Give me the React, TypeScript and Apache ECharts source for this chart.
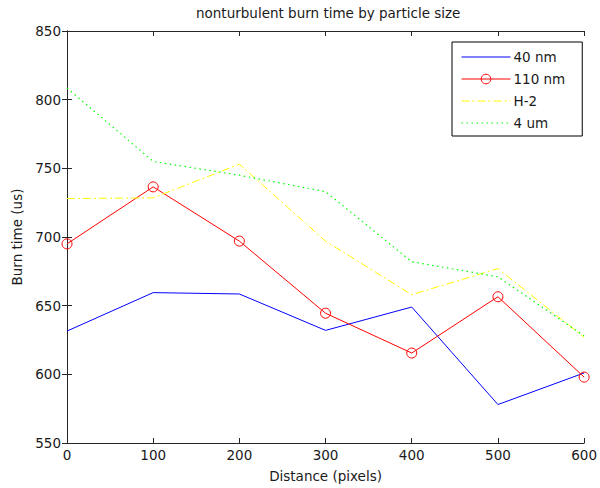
import React, { useEffect, useRef } from "react";
import * as echarts from "echarts";

// Burn time (us) measured at each distance along the path (pixels)
const distances = [0, 100, 200, 300, 400, 500, 600];
const burn40nm = [631.5, 659.5, 658.5, 632, 649, 578, 601];
const burn110nm = [695, 736.5, 697, 644.5, 615.5, 656.5, 598];
const burnH2 = [728, 728.5, 753, 697, 658, 677, 627];
const burn4um = [808.5, 755, 745, 733, 682, 671, 628];

const seriesNames = ["40 nm", "110 nm", "H-2", "4 um"];
const xTicks = { min: 0, max: 600, interval: 100 };
const yTicks = { min: 550, max: 850, interval: 50 };

const FONT = "DejaVu Sans";
const TEXT = "#1a1a1a";
const AXIS = "#262626";
const CLEAR = "rgba(255,255,255,0)";

const pairs = (ys: number[]) => distances.map((d, i) => [d, ys[i]]);

export default function App() {
  const ref = useRef<HTMLDivElement>(null);

  useEffect(() => {
    if (!ref.current) return;
    const chart = echarts.init(ref.current, undefined, { renderer: "svg" });

    const axisLine = { show: true, lineStyle: { color: AXIS, width: 1 } };
    const axisTick = { show: true, inside: true, length: 5, lineStyle: { color: AXIS } };
    const label = { color: TEXT, fontFamily: FONT, fontSize: 13.5 };

    // plain lines: no markers, and nothing drawn in the legend swatch centre
    const plain = (name: string, ys: number[], color: string, extra: object = {}) => ({
      name,
      type: "line",
      data: pairs(ys),
      symbol: "none",
      lineStyle: { color, width: 1, ...extra },
      itemStyle: { color: CLEAR, borderColor: CLEAR, borderWidth: 0 },
    });

    chart.setOption({
      animation: false,
      backgroundColor: "#ffffff",
      title: {
        text: "nonturbulent burn time by particle size",
        left: 196,
        top: 6,
        padding: 0,
        textStyle: { ...label, fontWeight: "normal" },
      },
      grid: { left: 67, right: 11, top: 31, bottom: 45, containLabel: false },
      legend: {
        data: seriesNames,
        orient: "vertical",
        left: 452,
        top: 42,
        padding: [8, 17, 6, 9],
        itemWidth: 49,
        itemHeight: 12,
        itemGap: 8,
        borderColor: "#000000",
        borderWidth: 1,
        backgroundColor: "#ffffff",
        lineStyle: { width: 1 },
        itemStyle: { borderWidth: 1 },
        textStyle: { ...label, padding: [0, 0, 0, -2] },
      },
      xAxis: [
        {
          type: "value",
          ...xTicks,
          name: "Distance (pixels)",
          nameLocation: "middle",
          nameGap: 26,
          nameTextStyle: label,
          axisLine,
          axisTick,
          splitLine: { show: false },
          axisLabel: { ...label, margin: 5 },
        },
        {
          type: "value",
          position: "top",
          ...xTicks,
          axisLine,
          axisTick,
          splitLine: { show: false },
          axisLabel: { show: false },
        },
      ],
      yAxis: [
        {
          type: "value",
          ...yTicks,
          name: "Burn time (us)",
          nameLocation: "middle",
          nameGap: 42,
          nameTextStyle: label,
          axisLine,
          axisTick,
          splitLine: { show: false },
          axisLabel: { ...label, margin: 6 },
        },
        {
          type: "value",
          position: "right",
          ...yTicks,
          axisLine,
          axisTick,
          splitLine: { show: false },
          axisLabel: { show: false },
        },
      ],
      series: [
        plain(seriesNames[0], burn40nm, "#0000ff"),
        {
          name: seriesNames[1],
          type: "line",
          data: pairs(burn110nm),
          symbol: "circle",
          symbolSize: 10,
          lineStyle: { color: "#ff0000", width: 1 },
          itemStyle: { color: CLEAR, borderColor: "#ff0000", borderWidth: 1 },
        },
        plain(seriesNames[2], burnH2, "#ffff00", { type: [8, 3, 2, 3] }),
        plain(seriesNames[3], burn4um, "#00ff00", { width: 1.2, type: [1.5, 3.5] }),
      ],
    });

    return () => chart.dispose();
  }, []);

  return (
    <div
      ref={ref}
      style={{ position: "fixed", left: 0, top: 0, width: 600, height: 488, background: "#fff" }}
    />
  );
}
